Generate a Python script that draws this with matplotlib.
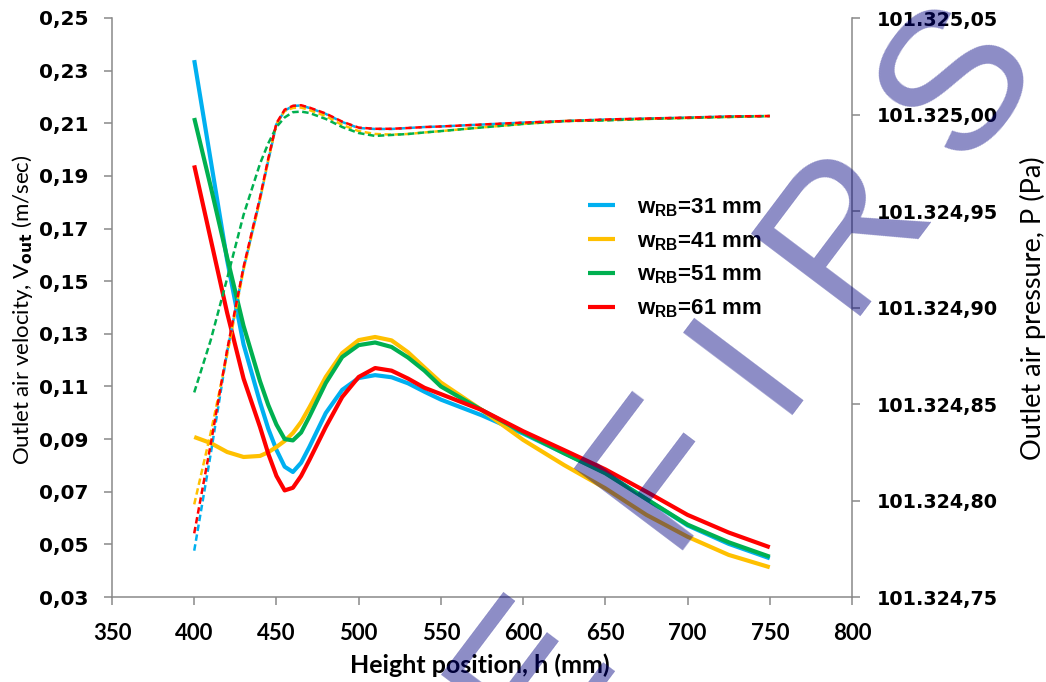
import matplotlib
matplotlib.use("Agg")
import numpy as np
import matplotlib.pyplot as plt
from matplotlib.ticker import FuncFormatter, MultipleLocator
from matplotlib.lines import Line2D

# height position (mm)
h = [400, 410, 420, 430, 440, 445, 450, 455, 460, 465, 470, 480, 490, 500, 510,
     520, 530, 540, 550, 575, 600, 625, 650, 675, 700, 725, 750]

# outlet air velocity (m/sec)
v31 = [0.234, 0.196, 0.158, 0.126, 0.104, 0.094, 0.0859, 0.0795, 0.0775, 0.0810, 0.0870,
       0.0999, 0.1087, 0.1132, 0.1143, 0.1135, 0.1112, 0.1080, 0.1050, 0.0990, 0.0921,
       0.0846, 0.0772, 0.0672, 0.0572, 0.0502, 0.0447]
v41 = [0.0908, 0.0885, 0.0851, 0.0832, 0.0836, 0.0850, 0.0870, 0.0893, 0.0923, 0.0965, 0.1020,
       0.1136, 0.1227, 0.1276, 0.1288, 0.1275, 0.1230, 0.1172, 0.1115, 0.1010, 0.0897,
       0.0801, 0.0713, 0.0612, 0.0529, 0.0460, 0.0413]
v51 = [0.212, 0.186, 0.159, 0.133, 0.112, 0.103, 0.0955, 0.0900, 0.0895, 0.0925, 0.0985,
       0.1113, 0.1212, 0.1257, 0.1267, 0.1250, 0.1210, 0.1160, 0.1100, 0.1010, 0.0925,
       0.0846, 0.0770, 0.0672, 0.0575, 0.0508, 0.0453]
v61 = [0.194, 0.166, 0.138, 0.113, 0.0946, 0.0845, 0.0760, 0.0705, 0.0715, 0.0760, 0.0820,
       0.0946, 0.1060, 0.1136, 0.1170, 0.1160, 0.1130, 0.1095, 0.1071, 0.1010, 0.0930,
       0.0858, 0.0785, 0.0700, 0.0612, 0.0545, 0.0489]

# outlet air pressure (Pa)
p31 = [101324.774, 101324.824, 101324.877, 101324.920, 101324.956, 101324.976, 101324.995,
       101325.002, 101325.0044, 101325.0047, 101325.0034, 101325.0003, 101324.9961,
       101324.9930, 101324.9925, 101324.9925, 101324.9930, 101324.9935, 101324.9938,
       101324.9948, 101324.9958, 101324.9966, 101324.9974, 101324.9979, 101324.9984,
       101324.9990, 101324.9992]
p41 = [101324.798, 101324.835, 101324.8754, 101324.9194, 101324.9557, 101324.9764, 101324.9951,
       101325.0018, 101325.0034, 101325.0036, 101325.0023, 101324.9992, 101324.9946,
       101324.9914, 101324.9899, 101324.9896, 101324.9899, 101324.9907, 101324.9914,
       101324.9933, 101324.9951, 101324.9966, 101324.9971, 101324.9977, 101324.9982,
       101324.9987, 101324.9992]
p51 = [101324.856, 101324.883, 101324.915, 101324.948, 101324.9745, 101324.985, 101324.9935,
       101324.9985, 101325.0012, 101325.0015, 101325.0008, 101324.9977, 101324.9935,
       101324.9904, 101324.9889, 101324.9894, 101324.9899, 101324.9907, 101324.9914,
       101324.9933, 101324.9951, 101324.9966, 101324.9969, 101324.9977, 101324.9982,
       101324.9987, 101324.9992]
p61 = [101324.783, 101324.829, 101324.878, 101324.921, 101324.957, 101324.977, 101324.9955,
       101325.0025, 101325.0045, 101325.0048, 101325.0036, 101325.0005, 101324.9963,
       101324.9932, 101324.9926, 101324.9926, 101324.9930, 101324.9935, 101324.9938,
       101324.9948, 101324.9958, 101324.9966, 101324.9974, 101324.9979, 101324.9984,
       101324.9990, 101324.9992]

labels = ['31', '41', '51', '61']
colors = ['#00B0F0', '#FFC000', '#00B050', '#FF0000']
vel = [v31, v41, v51, v61]
pres = [p31, p41, p51, p61]

watermark = ['E', 'F', 'I', 'R', 'S']
wm_pos = [(533, 673), (662, 470), (750, 362), (847, 228), (960, 83)]

W, H = 1046, 682
fig = plt.figure(figsize=(W / 100, H / 100), dpi=100)
ax = fig.add_axes([112 / W, 1 - 597 / H, 740 / W, 579 / H])
ax2 = ax.twinx()

for v, c in zip(vel, colors):
    ax.plot(h, v, color=c, lw=3.0, solid_capstyle='butt', solid_joinstyle='round', zorder=3)
for p, c in zip(pres, colors):
    ax2.plot(h, p, color=c, lw=1.8, dashes=(2.6, 1.4), zorder=3)

ax.set_xlim(350, 800)
ax.set_ylim(0.03, 0.25)
ax2.set_ylim(101324.75, 101325.05)
ax.xaxis.set_major_locator(MultipleLocator(50))
ax.set_yticks(np.arange(0.03, 0.2501, 0.02))
ax2.set_yticks(np.arange(101324.75, 101325.0501, 0.05))

ax.yaxis.set_major_formatter(FuncFormatter(lambda v, pos: f"{v:.2f}".replace('.', ',')))
ax2.yaxis.set_major_formatter(FuncFormatter(
    lambda v, pos: f"{v:,.2f}".replace(',', 'X').replace('.', ',').replace('X', '.')))

gray = '#898989'
for a in (ax, ax2):
    a.spines['top'].set_visible(False)
    for s in a.spines.values():
        s.set_color(gray)
        s.set_linewidth(1.1)
ax.spines['right'].set_visible(False)
ax2.spines['left'].set_visible(False)
ax2.spines['bottom'].set_visible(False)

ax.tick_params(axis='both', direction='out', length=6, width=1.1, color=gray)
ax2.tick_params(axis='y', direction='out', length=6, width=1.1, color=gray)
for t in ax.get_yticklabels():
    t.set_fontfamily('DejaVu Sans'); t.set_fontweight('bold'); t.set_fontsize(14.5)
for t in ax2.get_yticklabels():
    t.set_fontfamily('DejaVu Sans'); t.set_fontweight('bold'); t.set_fontsize(13.8)
for t in ax.get_xticklabels():
    t.set_fontfamily('Lato'); t.set_fontweight('bold'); t.set_fontsize(16)
ax.tick_params(axis='y', pad=11)
ax2.tick_params(axis='y', pad=12)
ax.tick_params(axis='x', pad=13)

fig.text(480 / W, 1 - 665 / H, 'Height position, h (mm)', ha='center', va='center',
         family='Lato', weight='bold', fontsize=18)
fig.text(23 / W, 1 - 310 / H, r'Outlet air velocity, V$_{\mathbf{out}}$ (m/sec)', ha='center',
         va='center', rotation=90, family='Lato', fontsize=16)
fig.text(1033 / W, 1 - 308 / H, 'Outlet air pressure, P (Pa)', ha='center', va='center',
         rotation=90, family='Lato', fontsize=19.5)

handles = [Line2D([], [], color=c, lw=3.0, solid_capstyle='butt') for c in colors]
leg_labels = [r'w$_{\mathdefault{RB}}$=' + l + ' mm' for l in labels]
leg = ax2.legend(handles, leg_labels, loc='upper left', bbox_to_anchor=(568 / W, 1 - 176 / H),
                 bbox_transform=fig.transFigure, frameon=False, handlelength=1.2,
                 handletextpad=1.0, labelspacing=0.51,
                 prop={'family': 'Liberation Sans', 'weight': 'bold', 'size': 16})

for letter, (x, y) in zip(watermark, wm_pos):
    fig.text(x / W, 1 - y / H, letter, ha='center', va='center', rotation=53,
             rotation_mode='anchor', family='Liberation Sans', fontsize=143,
             color='#000080', alpha=0.45, zorder=10)

fig.savefig('out.png', dpi=100)
